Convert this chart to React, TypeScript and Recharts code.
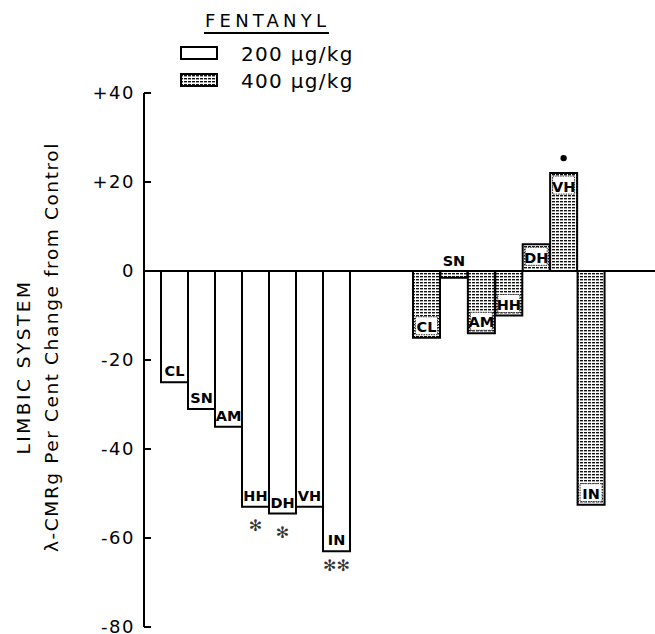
import React from 'react';
import { BarChart, Bar, XAxis, YAxis, ReferenceLine, LabelList } from 'recharts';

const regions = ['CL', 'SN', 'AM', 'HH', 'DH', 'VH', 'IN'];
const dose200 = [-25, -31, -35, -53, -54.5, -53, -63];
const dose400 = [-15, -1.5, -14, -10, 6, 22, -52.5];
const marks200 = ['', '', '', '✻', '✻', '', '✻✻'];
const marks400 = ['', '', '', '', '', '•', ''];
const yTicks = [-80, -60, -40, -20, 0, 20, 40];

const rows = regions.map((region, i) => ({ region, low: dose200[i], high: dose400[i] }));

const FONT = '"DejaVu Sans", "Liberation Sans", sans-serif';

const Tick = (props: any) => {
  const { x, y, payload } = props;
  const v = payload.value;
  const txt = v > 0 ? `+${v}` : `${v}`;
  return (
    <g>
      <line x1={x + 9} x2={x + 16} y1={y} y2={y} stroke="#000" strokeWidth={2} />
      <text x={x} y={y} dy="0.36em" textAnchor="end" fontSize={18} letterSpacing={1.5} fill="#000" fontFamily={FONT}>
        {txt}
      </text>
    </g>
  );
};

// label inside the bar end, plus significance marks outside
const makeLabel = (values: number[], marks: string[], boxed: boolean) => (props: any) => {
  const { x, y, width, height, index } = props;
  const v = values[index];
  const top = Math.min(y, y + height);
  const bottom = Math.max(y, y + height);
  const cx = x + width / 2;
  const small = bottom - top < 22;
  let ly: number;
  if (small) ly = top - 5;
  else if (v < 0) ly = bottom - 6;
  else ly = top + 19;
  const mark = marks[index];
  return (
    <g>
      {boxed && !small && (
        <rect
          x={x + 2.5}
          y={v < 0 ? bottom - 21 : top + 3}
          width={width - 5}
          height={18}
          fill="#fff"
          stroke="#333"
          strokeWidth={1}
          strokeDasharray="1.5 1"
        />
      )}
      <text x={cx} y={ly} textAnchor="middle" fontSize={14.5} fontWeight="bold" fill="#000" fontFamily={FONT}>
        {regions[index]}
      </text>
      {mark === '•' && <circle cx={cx} cy={top - 15} r={3.2} fill="#000" />}
      {mark && mark !== '•' && (
        <text x={cx} y={bottom + (mark.length > 1 ? 20 : 24)} textAnchor="middle" fontSize={16} fill="#333" fontFamily={FONT}>
          {mark}
        </text>
      )}
    </g>
  );
};

export default function App() {
  return (
    <div style={{ position: 'absolute', left: 0, top: 0, width: 655, height: 634, background: '#fff' }}>
      <BarChart
        width={655}
        height={634}
        data={rows}
        margin={{ top: 93, right: 0, bottom: 7, left: 0 }}
        barCategoryGap={0}
        barGap={0}
      >
        <defs>
          <pattern id="stipple" width={4} height={3} patternUnits="userSpaceOnUse">
            <rect width={4} height={3} fill="#fff" />
            <rect x={0} y={0} width={3} height={1.4} fill="#111" />
          </pattern>
        </defs>
        <XAxis xAxisId="g1" dataKey="region" hide padding={{ left: 17, right: 305 }} />
        <XAxis xAxisId="g2" dataKey="region" hide padding={{ left: 269, right: 50 }} />
        <YAxis
          width={144}
          domain={[-80, 40]}
          ticks={yTicks}
          interval={0}
          axisLine={{ stroke: '#000', strokeWidth: 2 }}
          tickLine={false}
          tickSize={0}
          tickMargin={9}
          tick={<Tick />}
        />
        <Bar xAxisId="g1" dataKey="low" fill="#fff" stroke="#000" strokeWidth={2} isAnimationActive={false}>
          <LabelList dataKey="low" content={makeLabel(dose200, marks200, false)} />
        </Bar>
        <Bar xAxisId="g2" dataKey="high" fill="url(#stipple)" stroke="#000" strokeWidth={2} isAnimationActive={false}>
          <LabelList dataKey="high" content={makeLabel(dose400, marks400, true)} />
        </Bar>
        <ReferenceLine xAxisId="g1" y={0} stroke="#000" strokeWidth={2} />
      </BarChart>
      <svg width={655} height={634} style={{ position: 'absolute', left: 0, top: 0, pointerEvents: 'none' }}>
        <defs>
          <pattern id="stippleLegend" width={4} height={3} patternUnits="userSpaceOnUse">
            <rect width={4} height={3} fill="#fff" />
            <rect x={0} y={0} width={3} height={1.4} fill="#111" />
          </pattern>
        </defs>
        <text x={205} y={27} fontSize={18} letterSpacing={4.2} fontFamily={FONT} fill="#000">FENTANYL</text>
        <line x1={204} x2={329} y1={33} y2={33} stroke="#000" strokeWidth={2} />
        <rect x={181} y={47} width={36} height={12} fill="#fff" stroke="#000" strokeWidth={2} />
        <rect x={181} y={74} width={36} height={12} fill="url(#stippleLegend)" stroke="#000" strokeWidth={2} />
        <text x={241} y={61} fontSize={20} letterSpacing={1.3} fontFamily={FONT} fill="#000">200 µg/kg</text>
        <text x={241} y={88} fontSize={20} letterSpacing={1.3} fontFamily={FONT} fill="#000">400 µg/kg</text>
        <text x={30} y={367} transform="rotate(-90 30 367)" textAnchor="middle" fontSize={18.5} letterSpacing={2.5} fontFamily={FONT} fill="#000">
          LIMBIC SYSTEM
        </text>
        <text x={58} y={347} transform="rotate(-90 58 347)" textAnchor="middle" fontSize={18.5} letterSpacing={1.6} fontFamily={FONT} fill="#000">
          λ-CMRg Per Cent Change from Control
        </text>
      </svg>
    </div>
  );
}
